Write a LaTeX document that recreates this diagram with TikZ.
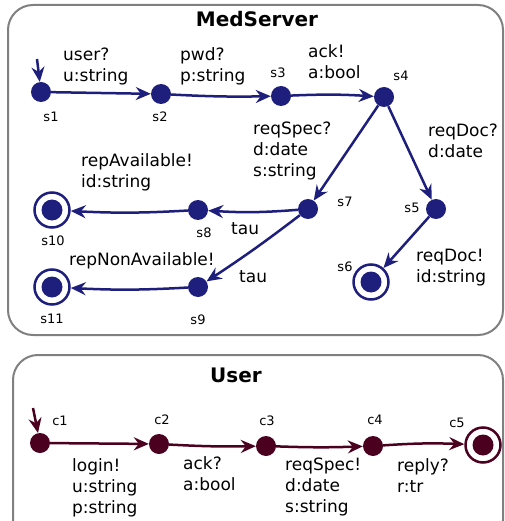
\documentclass[tikz,border=0pt]{standalone}
\usepackage{fontspec}
\setmainfont{DejaVu Sans}
\usepackage{tikz}
\usetikzlibrary{arrows.meta}
\definecolor{srvblue}{RGB}{30,30,125}
\definecolor{usrred}{RGB}{75,0,32}
\definecolor{boxgray}{RGB}{128,128,128}
\tikzset{
  loc/.style={circle,fill,inner sep=0pt,minimum size=20pt},
  acc/.style={circle,draw=#1,fill=white,line width=2.5pt,inner sep=0pt,minimum size=35pt,
    path picture={\fill[#1] (path picture bounding box.center) circle (10.5pt);}},
  nm/.style={font=\fontsize{13}{15}\selectfont,inner sep=0pt},
  act/.style={font=\fontsize{17}{21}\selectfont,align=left,anchor=base west,inner sep=0pt},
  ttl/.style={font=\fontsize{20}{24}\selectfont\bfseries,anchor=base,inner sep=0pt},
  trans/.style={line width=2.5pt,-{Stealth[length=15pt,width=13pt,inset=5pt]}},
  frame/.style={draw=boxgray,line width=2pt,rounded corners=25pt}
}
\begin{document}
\begin{tikzpicture}[x=1pt,y=-1pt]
\useasboundingbox (0,0) rectangle (504,521);
% MedServer
\draw[frame] (8,5) rectangle (503,335);
\node[ttl] (medtitle) at (257,27) {MedServer};
\begin{scope}[srvblue]
\node[loc] (s1) at (41,92) {};
\node[loc] (s2) at (161,94) {};
\node[loc] (s3) at (281,96) {};
\node[loc] (s4) at (384,97) {};
\node[loc] (s5) at (436,209) {};
\node[acc=srvblue] (s6) at (371,282) {};
\node[loc] (s7) at (308,209) {};
\node[loc] (s8) at (198,210) {};
\node[loc] (s9) at (198,287) {};
\node[acc=srvblue] (s10) at (52,210) {};
\node[acc=srvblue] (s11) at (52,287) {};
\coordinate (s0) at (37,59);
\draw[trans] (s0) -- (s1);
\draw[trans] (s1) -- (s2);
\draw[trans] (s2) to[bend right=2] (s3);
\draw[trans] (s3) to[bend left=3] (s4);
\draw[trans] (s4) -- (s7);
\draw[trans] (s4) -- (s5);
\draw[trans] (s5) -- (s6);
\draw[trans] (s7) to[bend left=4] (s8);
\draw[trans] (s7) to[bend left=2] (s9);
\draw[trans] (s8) to[bend left=3] (s10);
\draw[trans] (s9) to[bend left=3] (s11);
\end{scope}
\node[nm] (n1) at (51,117) {s1};
\node[nm] (n2) at (160,117) {s2};
\node[nm] (n3) at (278,73) {s3};
\node[nm] (n4) at (401,76) {s4};
\node[nm] (n5) at (412,208) {s5};
\node[nm] (n6) at (345,267) {s6};
\node[nm] (n7) at (345,202) {s7};
\node[nm] (n8) at (204,233) {s8};
\node[nm] (n9) at (198,320) {s9};
\node[nm] (n10) at (53,241) {s10};
\node[nm] (n11) at (52,319) {s11};
\node[act] (a12) at (63,82) {user?\\u:string};
\node[act] (a23) at (180,82) {pwd?\\p:string};
\node[act] (a34) at (308,79) {ack!\\a:bool};
\node[act] (a47) at (253,177) {reqSpec?\\d:date\\s:string};
\node[act] (a45) at (428,158) {reqDoc?\\d:date};
\node[act] (a56) at (416,282) {reqDoc!\\id:string};
\node[act] (a78) at (231,234) {tau};
\node[act] (a79) at (239,282) {tau};
\node[act] (a810) at (81,188) {repAvailable!\\id:string};
\node[act] (a911) at (69,265) {repNonAvailable!};
% User
\draw[frame] (13,355) rectangle (503,545);
\node[ttl] (usrtitle) at (236,382) {User};
\begin{scope}[usrred]
\node[loc] (c1) at (40,443) {};
\node[loc] (c2) at (159,444) {};
\node[loc] (c3) at (266,446) {};
\node[loc] (c4) at (373,446) {};
\node[acc=usrred] (c5) at (483,445) {};
\coordinate (c0) at (33,408);
\draw[trans] (c0) -- (c1);
\draw[trans] (c1) -- (c2);
\draw[trans] (c2) to[bend right=2] (c3);
\draw[trans] (c3) to[bend right=2] (c4);
\draw[trans] (c4) to[bend left=3] (c5);
\end{scope}
\node[nm] (m1) at (60,421) {c1};
\node[nm] (m2) at (162,420) {c2};
\node[nm] (m3) at (267,421) {c3};
\node[nm] (m4) at (375,420) {c4};
\node[nm] (m5) at (457,423) {c5};
\node[act] (b12) at (72,513) {login!\\u:string\\p:string};
\node[act] (b23) at (183,490) {ack?\\a:bool};
\node[act] (b34) at (285,512) {reqSpec!\\d:date\\s:string};
\node[act] (b45) at (397,492) {reply?\\r:tr};
\end{tikzpicture}
\end{document}
